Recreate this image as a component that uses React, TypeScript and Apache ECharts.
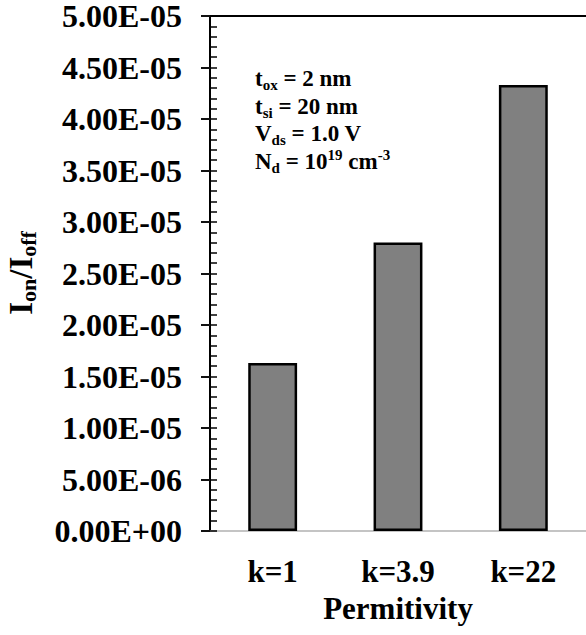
import React, { useEffect, useRef } from "react";
import * as echarts from "echarts";

// Permittivity categories and the on/off current ratio for each
const categories = ["k=1", "k=3.9", "k=22"];
const ionIoff = [1.63e-5, 2.8e-5, 4.33e-5];

// Value axis range and tick steps
const yMin = 0;
const yMax = 5e-5;
const majorStep = 5e-6;
const minorStep = 1e-6;

// Device parameters listed inside the plot
const paramLines = [
  "{m|t}{s|ox}{m| = 2 nm}",
  "{m|t}{s|si}{m| = 20 nm}",
  "{m|V}{s|ds}{m| = 1.0 V}",
  "{m|N}{s|d}{m| = 10}{p|19}{m| cm}{p|-3}",
];

const FONT = "Liberation Serif";

function sci(v: number): string {
  if (v === 0) return "0.00E+00";
  const [mant, exp] = v.toExponential(2).split("e");
  const n = parseInt(exp, 10);
  return mant + "E" + (n < 0 ? "-" : "+") + String(Math.abs(n)).padStart(2, "0");
}

export default function App() {
  const ref = useRef<HTMLDivElement>(null);

  useEffect(() => {
    if (!ref.current) return;
    const chart = echarts.init(ref.current, undefined, { renderer: "svg" });
    chart.setOption({
      animation: false,
      backgroundColor: "#ffffff",
      textStyle: { fontFamily: FONT },
      grid: { left: 210, top: 16, width: 380, height: 515 },
      xAxis: [
        {
          type: "category",
          data: categories,
          position: "bottom",
          axisLine: { show: true, onZero: false, lineStyle: { color: "#c4c4c4", width: 2 } },
          axisTick: { show: false },
          axisLabel: {
            margin: 25,
            color: "#000",
            fontFamily: FONT,
            fontWeight: "bold",
            fontSize: 31,
          },
          name: "Permitivity",
          nameLocation: "middle",
          nameGap: 62,
          nameTextStyle: {
            color: "#000",
            fontFamily: FONT,
            fontWeight: "bold",
            fontSize: 31,
          },
        },
        {
          type: "category",
          data: categories,
          position: "top",
          axisLine: { show: true, onZero: false, lineStyle: { color: "#000", width: 2 } },
          axisTick: { show: false },
          axisLabel: { show: false },
        },
      ],
      yAxis: [
        {
          type: "value",
          min: yMin,
          max: yMax,
          interval: majorStep,
          position: "left",
          axisLine: { show: true, lineStyle: { color: "#000", width: 2 } },
          axisTick: { show: true, inside: false, length: 9, lineStyle: { color: "#111", width: 2 } },
          splitLine: { show: false },
          axisLabel: {
            margin: 28,
            color: "#000",
            fontFamily: FONT,
            fontWeight: "bold",
            fontSize: 32,
            formatter: (v: number) => sci(v),
          },
        },
        {
          type: "value",
          min: yMin,
          max: yMax,
          interval: minorStep,
          position: "left",
          offset: 0,
          axisLine: { show: false },
          axisTick: { show: true, inside: true, length: 7, lineStyle: { color: "#000", width: 1.5 } },
          splitLine: { show: false },
          axisLabel: { show: false },
        },
      ],
      series: [
        {
          type: "bar",
          xAxisIndex: 0,
          yAxisIndex: 0,
          data: ionIoff,
          barWidth: "39%",
          itemStyle: { color: "#808080", borderColor: "#000", borderWidth: 2.5 },
        },
      ],
      graphic: [
        {
          type: "text",
          x: 21,
          y: 273,
          rotation: Math.PI / 2,
          style: {
            text: "{m|I}{s|on}{m|/I}{s|off}",
            align: "center",
            verticalAlign: "middle",
            rich: {
              m: { fontFamily: FONT, fontWeight: "bold", fontSize: 33, lineHeight: 36, fill: "#000" },
              s: {
                fontFamily: FONT,
                fontWeight: "bold",
                fontSize: 22,
                lineHeight: 23,
                verticalAlign: "bottom",
                fill: "#000",
              },
            },
          },
        },
        {
          type: "text",
          x: 255,
          y: 65,
          style: {
            text: paramLines.join("\n"),
            align: "left",
            verticalAlign: "top",
            rich: {
              m: { fontFamily: FONT, fontWeight: "bold", fontSize: 23, lineHeight: 27.5, fill: "#000" },
              s: {
                fontFamily: FONT,
                fontWeight: "bold",
                fontSize: 15,
                lineHeight: 14,
                verticalAlign: "bottom",
                fill: "#000",
              },
              p: {
                fontFamily: FONT,
                fontWeight: "bold",
                fontSize: 15,
                lineHeight: 14,
                verticalAlign: "top",
                fill: "#000",
              },
            },
          },
        },
      ],
    });
    return () => chart.dispose();
  }, []);

  return (
    <div
      ref={ref}
      style={{ position: "absolute", left: 0, top: 0, width: 586, height: 635 }}
    />
  );
}
